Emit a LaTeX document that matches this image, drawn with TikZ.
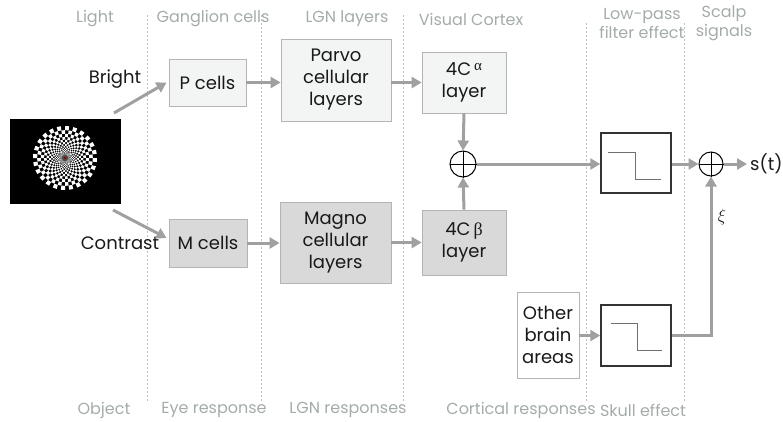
\documentclass[tikz,border=0pt]{standalone}
\usepackage{fontspec}
\setmainfont{Poppins}
\newfontfamily\greekfont{Liberation Serif}
\usetikzlibrary{arrows.meta}
\definecolor{arrowgray}{HTML}{A0A0A0}
\definecolor{labelgray}{HTML}{A3ACA8}
\definecolor{boxline}{HTML}{B4B4B4}
\definecolor{lightfill}{HTML}{F3F5F4}
\definecolor{darkfill}{HTML}{D9D9D9}
\definecolor{stepgray}{HTML}{707070}
\tikzset{
  boxtext/.style={font=\fontsize{18}{22}\selectfont, align=center, inner sep=0pt, text=black!90},
  lightbox/.style={boxtext, draw=boxline, fill=lightfill, line width=0.8pt},
  darkbox/.style={boxtext, draw=boxline, fill=darkfill, line width=0.8pt},
  plainbox/.style={boxtext, draw=boxline, fill=white, line width=0.8pt},
  filterbox/.style={draw=black!80, fill=white, line width=1.5pt, inner sep=0pt},
  stepline/.style={draw=stepgray, line width=0.9pt},
  sumnode/.style={circle, draw=black, line width=1pt, fill=white, inner sep=0pt},
  arr/.style={draw=arrowgray, line width=3pt, -{Triangle[length=10pt,width=11pt]}},
  stagelabel/.style={font=\fontsize{16}{19}\selectfont, text=labelgray, inner sep=0pt, align=center},
  divider/.style={draw=black!25, line width=0.6pt, dash pattern=on 2pt off 2pt},
  sidelabel/.style={font=\fontsize{18}{20}\selectfont, text=black!90, inner sep=0pt}
}
\begin{document}
\begin{tikzpicture}[x=1pt, y=-1pt]
\useasboundingbox (0,0) rectangle (783,421);

% stage dividers
\draw[divider] (147,15) -- (147,402);
\draw[divider] (261,15) -- (261,402);
\draw[divider] (403,15) -- (403,402);
\draw[divider] (586,23) -- (586,402);
\draw[divider] (684,23) -- (684,402);

% stage labels (top)
\node[stagelabel] (tLight) at (95,19) {Light};
\node[stagelabel] (tGang) at (213,19) {Ganglion cells};
\node[stagelabel] (tLGN) at (347,19) {LGN layers};
\node[stagelabel] (tVC) at (471,19) {Visual Cortex};
\node[stagelabel] (tLP) at (642,23) {Low-pass\\filter effect};
\node[stagelabel] (tSc) at (724,23) {Scalp\\signals};

% stage labels (bottom)
\node[stagelabel] (bObj) at (104,410) {Object};
\node[stagelabel] (bEye) at (214,410) {Eye response};
\node[stagelabel] (bLGN) at (348,410) {LGN responses};
\node[stagelabel] (bCort) at (521,410) {Cortical responses};
\node[stagelabel] (bSkull) at (643,410) {Skull effect};

% stimulus: radial checkerboard on black
\node[fill=black, minimum width=111pt, minimum height=85pt, inner sep=0pt] (img) at (65.5,161.5) {};
\begin{scope}[shift={(65,158)}]
  \foreach \i in {0,...,17}{
    \pgfmathsetmacro\ro{32*0.87^\i}
    \pgfmathsetmacro\ri{32*0.87^(\i+1)}
    \pgfmathtruncatemacro\off{mod(\i,2)}
    \foreach \j in {0,2,...,46}{
      \pgfmathsetmacro\aa{(\j+\off)*7.5}
      \pgfmathsetmacro\ab{(\j+\off+1)*7.5}
      \fill[white] (\aa:\ro) arc[start angle=\aa, end angle=\ab, radius=\ro]
        -- (\ab:\ri) arc[start angle=\ab, end angle=\aa, radius=\ri] -- cycle;
    }
  }
  \fill[black!70] (0,0) circle (3.2);
  \fill[red!60!black] (0,0) circle (1.3);
\end{scope}
\coordinate (imgTop) at (114,113);
\coordinate (imgBot) at (113,210);

% pathway boxes
\node[lightbox, minimum width=77pt, minimum height=47pt] (P) at (207.5,82.5) {P cells};
\node[lightbox, minimum width=110pt, minimum height=82pt] (Parvo) at (336,80) {Parvo\\cellular\\layers};
\node[lightbox, minimum width=84pt, minimum height=61pt] (Ca) at (464,82.5) {4C\,\raisebox{5pt}{\fontsize{15}{15}\greekfont α}\\layer};
\node[darkbox, minimum width=78pt, minimum height=48pt] (M) at (208,243) {M cells};
\node[darkbox, minimum width=111pt, minimum height=81pt] (Magno) at (335.5,242.5) {Magno\\cellular\\layers};
\node[darkbox, minimum width=84pt, minimum height=65pt] (Cb) at (464,242.5) {4C\,{\greekfont β}\\layer};
\node[plainbox, minimum width=62pt, minimum height=86pt] (other) at (548,335) {Other\\brain\\areas};

% low-pass filters
\node[filterbox, minimum width=70pt, minimum height=60pt] (F1) at (636,163) {};
\draw[stepline] (608,152) -- (635,152) -- (635,179) -- (661,179);
\node[filterbox, minimum width=70pt, minimum height=61pt] (F2) at (636,335.5) {};
\draw[stepline] (611,323) -- (637,323) -- (637,350) -- (662,350);

% summing junctions
\node[sumnode, minimum size=26pt] (S1) at (463,164) {};
\draw[line width=1pt] (S1.north) -- (S1.south) (S1.west) -- (S1.east);
\node[sumnode, minimum size=24pt] (S2) at (711,164) {};
\draw[line width=1pt] (S2.north) -- (S2.south) (S2.west) -- (S2.east);

% output and noise labels
\node[sidelabel, anchor=west] (st) at (750,164) {s(t)};
\node[sidelabel] (xi) at (722,217) {$\xi$};
\node[sidelabel] (bright) at (115,79) {Bright};
\node[sidelabel] (contrast) at (120,243) {Contrast};

% connectors
\draw[arr] (imgTop) -- ([shift={(-2pt,0pt)}]P.west);
\draw[arr] (imgBot) -- ([shift={(-2pt,5pt)}]M.west);
\draw[arr] (P.east) -- (P.east -| Parvo.west);
\draw[arr] (Parvo.east |- Ca.west) -- (Ca.west);
\draw[arr] (M.east) -- (M.east -| Magno.west);
\draw[arr] (Magno.east |- Cb.west) -- (Cb.west);
\draw[arr] (Ca.south) -- (S1.north);
\draw[arr] (Cb.north) -- (S1.south);
\draw[arr] (S1.east) -- (F1.west |- S1.east);
\draw[arr] (F1.east |- S2.west) -- (S2.west);
\draw[arr] (S2.east) -- ([xshift=-3pt]st.west);
\draw[arr] (other.east |- F2.west) -- (F2.west);
\draw[arr] (F2.east) -| (S2.south);
\end{tikzpicture}
\end{document}
